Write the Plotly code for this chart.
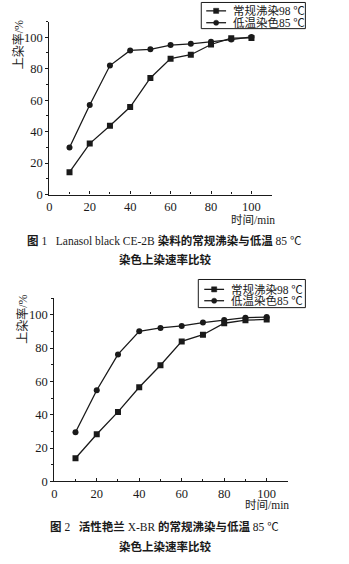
import plotly.graph_objects as go

# Dyeing time (min)
time_min = [10, 20, 30, 40, 50, 60, 70, 80, 90, 100]

# Fig. 1: Lanasol black CE-2B uptake (%)
fig1_boil98 = [14.2, 32.4, 43.7, 55.6, 74.1, 86.4, 88.9, 95.4, 99.4, 99.6]
fig1_low85 = [29.9, 56.9, 82.0, 91.6, 92.3, 95.0, 95.8, 97.1, 98.5, 100.2]

# Fig. 2: Reactive brilliant blue X-BR uptake (%)
fig2_boil98 = [13.9, 28.3, 41.7, 56.5, 69.7, 84.0, 88.0, 94.9, 96.7, 97.2]
fig2_low85 = [29.5, 54.7, 76.2, 90.1, 92.1, 93.3, 95.3, 96.8, 98.2, 98.6]

series_names = ["常规沸染98 ℃", "低温染色85 ℃"]
x_ticks = [0, 20, 40, 60, 80, 100]
y_ticks = [0, 20, 40, 60, 80, 100]

W, H = 349, 564
SERIF = "'Liberation Serif', 'Noto Sans CJK SC', serif"
INK = "#1a1a1a"


def px(x):
    return x / W


def py(y):
    return 1 - y / H


fig = go.Figure()

panels = [
    dict(xa="x", ya="y", data=(fig1_boil98, fig1_low85)),
    dict(xa="x2", ya="y2", data=(fig2_boil98, fig2_low85)),
]
symbols = ["square", "circle"]
for p in panels:
    for name, vals, sym in zip(series_names, p["data"], symbols):
        fig.add_trace(go.Scatter(
            x=time_min, y=vals, name=name, mode="lines+markers",
            xaxis=p["xa"], yaxis=p["ya"], showlegend=False,
            line=dict(color=INK, width=1.3),
            marker=dict(symbol=sym, size=6, color=INK),
        ))

base = dict(
    range=[0, 110], showgrid=False, zeroline=False, showline=True,
    linecolor=INK, linewidth=1.2, tickcolor=INK, ticklen=3, tickwidth=1,
    tickfont=dict(family=SERIF, size=12.5, color=INK),
)
minor_vals = [10, 30, 50, 70, 90, 110]
x_axis = dict(base, ticks="inside", tickvals=x_ticks,
              minor=dict(tickvals=minor_vals, ticklen=2,
                         tickcolor=INK, ticks="inside"))
y_axis = dict(base, ticks="outside", tickvals=y_ticks,
              minor=dict(tickvals=minor_vals, ticklen=2,
                         tickcolor=INK, ticks="outside"))

fig.update_layout(
    width=W, height=H, margin=dict(l=0, r=0, t=0, b=0),
    paper_bgcolor="white", plot_bgcolor="white",
    font=dict(family=SERIF, color=INK),
    xaxis=dict(x_axis, domain=[px(46.7), px(271)], anchor="y"),
    yaxis=dict(y_axis, domain=[py(197), py(21.8)], anchor="x"),
    xaxis2=dict(x_axis, domain=[px(51.7), px(287.4)], anchor="y2"),
    yaxis2=dict(y_axis, domain=[py(487.5), py(301.8)], anchor="x2"),
    showlegend=False,
)

shapes = []
ann = []

# Boxed key for each panel: box (left, top, right, bottom), row centres,
# sample line start/end
keys = [
    dict(box=(200, 2.5, 305, 29), rows=(11, 23), line=(205, 225)),
    dict(box=(197, 283, 305, 311.5), rows=(293, 304.5), line=(203, 223)),
]
for k in keys:
    l, t, r, b = k["box"]
    shapes.append(dict(type="rect", xref="paper", yref="paper",
                       x0=px(l), x1=px(r), y0=py(b), y1=py(t),
                       line=dict(color=INK, width=1), fillcolor="white",
                       layer="above"))
    x0, x1 = k["line"]
    xm = (x0 + x1) / 2
    for name, sym, yc in zip(series_names, symbols, k["rows"]):
        shapes.append(dict(type="line", xref="paper", yref="paper",
                           x0=px(x0), x1=px(x1), y0=py(yc), y1=py(yc),
                           line=dict(color=INK, width=1.3), layer="above"))
        s = 2.6
        shapes.append(dict(type="rect" if sym == "square" else "circle",
                           xref="paper", yref="paper",
                           x0=px(xm - s), x1=px(xm + s),
                           y0=py(yc + s), y1=py(yc - s),
                           line=dict(color=INK, width=0.5),
                           fillcolor=INK, layer="above"))
        ann.append(dict(x=px(x1 + 5), y=py(yc), xref="paper", yref="paper",
                        xanchor="left", yanchor="middle", text=name,
                        showarrow=False,
                        font=dict(family=SERIF, size=11.5, color=INK)))

# Axis titles
for xc, yc in [(16, 45), (20, 323)]:
    ann.append(dict(x=px(xc), y=py(yc), xref="paper", yref="paper",
                    xanchor="center", yanchor="middle",
                    text="上染率/%", textangle=-90, showarrow=False,
                    font=dict(family=SERIF, size=12, color=INK)))
for xc, yc in [(252, 222.5), (266, 511.5)]:
    ann.append(dict(x=px(xc), y=py(yc), xref="paper", yref="paper",
                    xanchor="center", yanchor="middle",
                    text="时间/min", showarrow=False,
                    font=dict(family=SERIF, size=11.5, color=INK)))

# Figure captions
bold = "font-family:'Noto Sans CJK SC';font-weight:bold"
cap1 = (f"<span style=\"{bold}\">图</span> 1   Lanasol black CE-2B "
        f"<span style=\"{bold}\">染料的常规沸染与低温</span> 85 ℃")
cap2 = (f"<span style=\"{bold}\">图</span> 2   <span style=\"{bold}\">活性艳兰</span> X-BR "
        f"<span style=\"{bold}\">的常规沸染与低温</span> 85 ℃")
cap_sub = "<b>染色上染速率比较</b>"
for text, xc, yc in [(cap1, 163, 243.5), (cap_sub, 163, 263),
                     (cap2, 163, 533), (cap_sub, 163, 553)]:
    ann.append(dict(x=px(xc), y=py(yc), xref="paper", yref="paper",
                    xanchor="center", yanchor="middle",
                    text=text, showarrow=False,
                    font=dict(family=SERIF, size=11.5, color=INK)))

fig.update_layout(shapes=shapes, annotations=ann)
fig.write_html("out.html")
